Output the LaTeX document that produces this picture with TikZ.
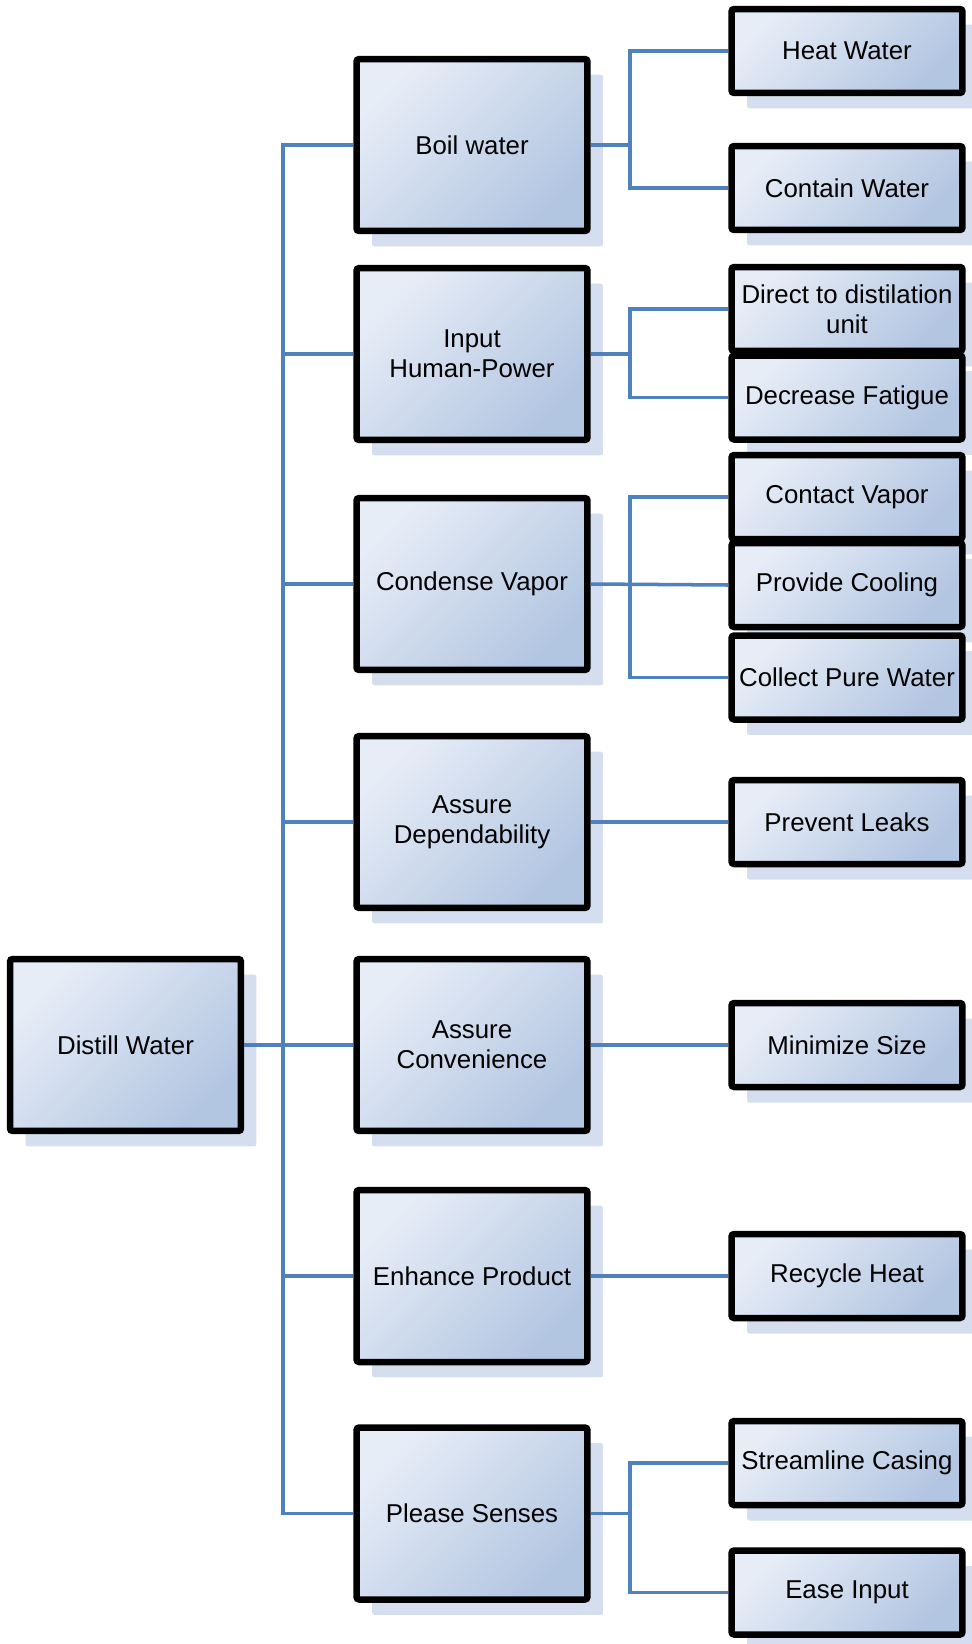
\documentclass[tikz,border=0pt]{standalone}
\usepackage{fontspec}
\setmainfont{Liberation Sans}
\usetikzlibrary{shadows}

\definecolor{boxlight}{RGB}{231,237,247}
\definecolor{boxdark}{RGB}{178,197,225}
\definecolor{linkblue}{RGB}{79,129,189}
\definecolor{shadowblue}{RGB}{212,222,239}

\begin{document}
\begin{tikzpicture}[x=0.02cm, y=-0.02cm,
    fnbox/.style={draw=black, line width=3.7pt, rounded corners=1.5pt,
        top color=boxlight, bottom color=boxdark, shading angle=45,
        drop shadow={shadow xshift=0.31cm, shadow yshift=-0.31cm,
            fill=shadowblue, opacity=1},
        align=center, inner sep=2pt,
        font=\fontsize{14.7}{17.3}\selectfont},
    mainbox/.style={fnbox, minimum width=4.62cm, minimum height=3.44cm},
    subbox/.style={fnbox, minimum width=4.62cm, minimum height=1.68cm},
    link/.style={draw=linkblue, line width=2pt}]
    \useasboundingbox (0,0) rectangle (972,1644);

    % Main function
    \node[mainbox] (distill) at (125.5,1045) {Distill Water};

    % Sub-functions
    \node[mainbox] (boil) at (472,145) {Boil water};
    \node[mainbox] (input) at (472,354) {Input\\Human-Power};
    \node[mainbox] (condense) at (472,584) {Condense Vapor};
    \node[mainbox] (depend) at (472,822) {Assure\\Dependability};
    \node[mainbox] (conv) at (472,1045) {Assure\\Convenience};
    \node[mainbox] (enhance) at (472,1276) {Enhance Product};
    \node[mainbox] (senses) at (472,1513.5) {Please Senses};

    % Leaf functions
    \node[subbox] (heat) at (847,51) {Heat Water};
    \node[subbox] (contain) at (847,188) {Contain Water};
    \node[subbox] (direct) at (847,309) {Direct to distilation\\unit};
    \node[subbox] (fatigue) at (847,397.5) {Decrease Fatigue};
    \node[subbox] (contact) at (847,497) {Contact Vapor};
    \node[subbox] (cooling) at (847,585) {Provide Cooling};
    \node[subbox] (collect) at (847,677.5) {Collect Pure Water};
    \node[subbox] (leaks) at (847,822) {Prevent Leaks};
    \node[subbox] (size) at (847,1045) {Minimize Size};
    \node[subbox] (recycle) at (847,1276) {Recycle Heat};
    \node[subbox] (casing) at (847,1463) {Streamline Casing};
    \node[subbox] (ease) at (847,1592.5) {Ease Input};

    \coordinate (trunk) at (283,0);
    \coordinate (fork) at (630,0);

    % Trunk
    \draw[link] (distill.east) -- (conv.west);
    \draw[link] (boil.west) -- (boil.west -| trunk) -- (senses.west -| trunk) -- (senses.west);
    \draw[link] (input.west -| trunk) -- (input.west);
    \draw[link] (condense.west -| trunk) -- (condense.west);
    \draw[link] (depend.west -| trunk) -- (depend.west);
    \draw[link] (enhance.west -| trunk) -- (enhance.west);

    % Branches
    \draw[link] (boil.east) -- (boil.east -| fork);
    \draw[link] (heat.west) -- (heat.west -| fork) -- (contain.west -| fork) -- (contain.west);
    \draw[link] (input.east) -- (input.east -| fork);
    \draw[link] (direct.west) -- (direct.west -| fork) -- (fatigue.west -| fork) -- (fatigue.west);
    \draw[link] (condense.east) -- (cooling.west);
    \draw[link] (contact.west) -- (contact.west -| fork) -- (collect.west -| fork) -- (collect.west);
    \draw[link] (depend.east) -- (leaks.west);
    \draw[link] (conv.east) -- (size.west);
    \draw[link] (enhance.east) -- (recycle.west);
    \draw[link] (senses.east) -- (senses.east -| fork);
    \draw[link] (casing.west) -- (casing.west -| fork) -- (ease.west -| fork) -- (ease.west);
\end{tikzpicture}
\end{document}
